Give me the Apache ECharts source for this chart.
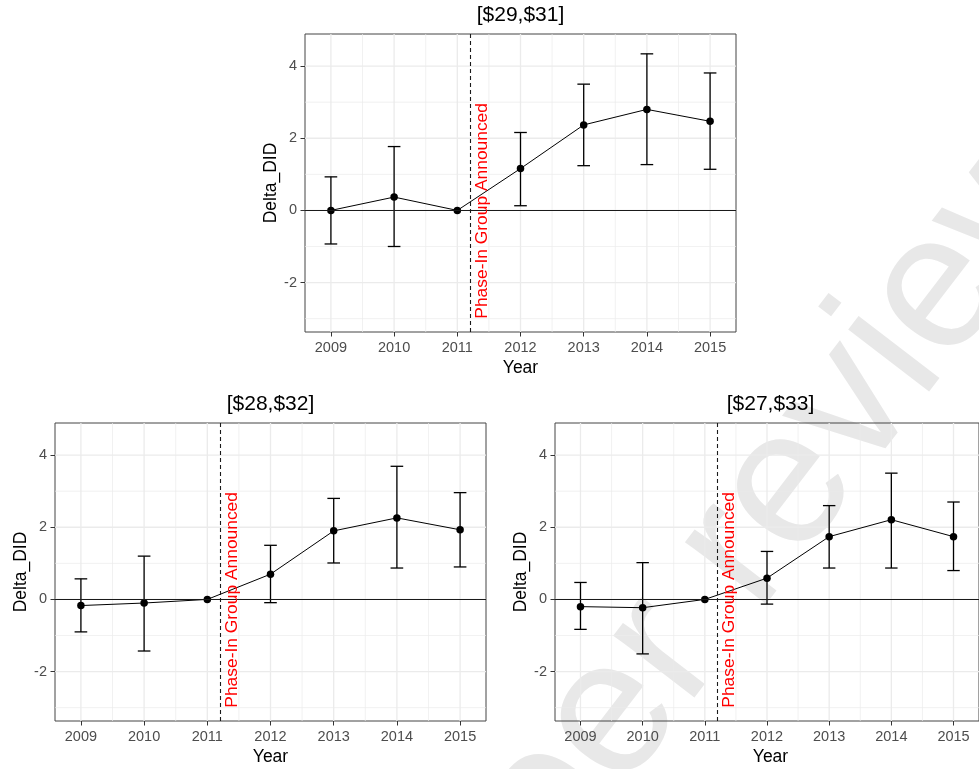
<!DOCTYPE html>
<html>
<head>
<meta charset="utf-8">
<script src="https://cdn.jsdelivr.net/npm/echarts@6/dist/echarts.min.js"></script>
<style>
html,body{margin:0;padding:0;background:#fff;}
#chart{width:979px;height:769px;}
</style>
</head>
<body>
<div id="chart"></div>
<script>
// ---------- data ----------
const years = [2009, 2010, 2011, 2012, 2013, 2014, 2015];
const panelTitles = ['[$29,$31]', '[$28,$32]', '[$27,$33]'];

const est29 = [0.00, 0.37, 0.00, 1.16, 2.37, 2.80, 2.47];
const lo29  = [-0.93, -1.00, 0.00, 0.13, 1.24, 1.27, 1.14];
const hi29  = [0.93, 1.77, 0.00, 2.16, 3.50, 4.34, 3.81];

const est28 = [-0.17, -0.10, 0.00, 0.70, 1.90, 2.26, 1.93];
const lo28  = [-0.90, -1.43, 0.00, -0.09, 1.01, 0.87, 0.90];
const hi28  = [0.57, 1.20, 0.00, 1.50, 2.80, 3.69, 2.96];

const est27 = [-0.20, -0.23, 0.00, 0.59, 1.74, 2.21, 1.74];
const lo27  = [-0.83, -1.51, 0.00, -0.13, 0.87, 0.87, 0.80];
const hi27  = [0.47, 1.02, 0.00, 1.33, 2.60, 3.50, 2.70];

const xTicks = [2009, 2010, 2011, 2012, 2013, 2014, 2015];
const xMinor = [2009.5, 2010.5, 2011.5, 2012.5, 2013.5, 2014.5];
const yTicks = [-2, 0, 2, 4];
const yMinor = [-3, -1, 1, 3];

const announceYear = 2011.2;
const annotationText = 'Phase-In Group Announced';
const annotationPos = [2011.4, -3];
const xTitle = 'Year';
const yTitle = 'Delta_DID';
const watermarkText = 'peer reviewed';

// ---------- layout ----------
const FONT = '"Liberation Sans", Arial, sans-serif';
const grids = [
  {left: 305, top: 34, width: 431, height: 298},
  {left: 55, top: 423, width: 431, height: 298},
  {left: 555, top: 423, width: 431, height: 298}
];
const panels = [
  {est: est29, lo: lo29, hi: hi29},
  {est: est28, lo: lo28, hi: hi28},
  {est: est27, lo: lo27, hi: hi27}
];

const chart = echarts.init(document.getElementById('chart'));

const xAxes = [], yAxes = [], series = [], graphics = [];

function gridRender(params, api) {
  const kind = api.value(2);
  const cs = params.coordSys;
  if (kind < 2) {
    const x = api.coord([api.value(0), 0])[0];
    return {type: 'line', shape: {x1: x, y1: cs.y, x2: x, y2: cs.y + cs.height},
      style: {stroke: '#ebebeb', lineWidth: kind === 0 ? 1.3 : 0.7}, silent: true};
  }
  const y = api.coord([2012, api.value(1)])[1];
  return {type: 'line', shape: {x1: cs.x, y1: y, x2: cs.x + cs.width, y2: y},
    style: {stroke: '#ebebeb', lineWidth: kind === 2 ? 1.3 : 0.7}, silent: true};
}

function errRender(params, api) {
  const x = api.value(0), lo = api.value(1), hi = api.value(2);
  if (lo === hi) return null;
  const pLo = api.coord([x, lo]), pHi = api.coord([x, hi]);
  const half = api.coord([x + 0.1, lo])[0] - pLo[0];
  const st = {stroke: '#000', lineWidth: 1.3};
  return {type: 'group', children: [
    {type: 'line', shape: {x1: pLo[0], y1: pLo[1], x2: pHi[0], y2: pHi[1]}, style: st},
    {type: 'line', shape: {x1: pLo[0] - half, y1: pLo[1], x2: pLo[0] + half, y2: pLo[1]}, style: st},
    {type: 'line', shape: {x1: pHi[0] - half, y1: pHi[1], x2: pHi[0] + half, y2: pHi[1]}, style: st}
  ]};
}

function annRender(params, api) {
  const p = api.coord([api.value(0), api.value(1)]);
  return {type: 'text', x: p[0], y: p[1], rotation: Math.PI / 2,
    style: {text: annotationText, fill: '#ff0000', font: '17.4px ' + FONT,
      align: 'left', verticalAlign: 'middle', textAlign: 'left', textVerticalAlign: 'middle'}};
}

panels.forEach((pn, i) => {
  const g = grids[i];
  xAxes.push({
    type: 'value', gridIndex: i, min: 2008.59, max: 2015.41,
    axisLine: {show: false, onZero: false},
    axisTick: {show: true, customValues: xTicks, length: 4.5, lineStyle: {color: '#333', width: 1}},
    axisLabel: {customValues: xTicks, formatter: v => String(v), color: '#4d4d4d',
      fontSize: 14.5, fontFamily: FONT, margin: 8},
    splitLine: {show: false}
  });
  yAxes.push({
    type: 'value', gridIndex: i, min: -3.37, max: 4.89,
    axisLine: {show: false, onZero: false},
    axisTick: {show: true, customValues: yTicks, length: 4.5, lineStyle: {color: '#333', width: 1}},
    axisLabel: {customValues: yTicks, formatter: v => String(v), color: '#4d4d4d',
      fontSize: 14.5, fontFamily: FONT, margin: 8},
    splitLine: {show: false}
  });

  const gridData = [];
  xTicks.forEach(v => gridData.push([v, 0, 0]));
  xMinor.forEach(v => gridData.push([v, 0, 1]));
  yTicks.forEach(v => gridData.push([2012, v, 2]));
  yMinor.forEach(v => gridData.push([2012, v, 3]));
  series.push({
    type: 'custom', xAxisIndex: i, yAxisIndex: i, z: 1, silent: true,
    renderItem: gridRender, data: gridData, encode: {x: 0, y: 1}
  });

  series.push({
    type: 'custom', xAxisIndex: i, yAxisIndex: i, z: 3,
    renderItem: errRender,
    data: years.map((y, k) => [y, pn.lo[k], pn.hi[k]]),
    encode: {x: 0, y: [1, 2]},
    markLine: {
      silent: true, symbol: ['none', 'none'], label: {show: false},
      data: [
        {yAxis: 0, lineStyle: {color: '#1a1a1a', width: 1.1, type: 'solid'}},
        {xAxis: announceYear, lineStyle: {color: '#1a1a1a', width: 1.1, type: [4, 3]}}
      ]
    }
  });

  series.push({
    type: 'line', xAxisIndex: i, yAxisIndex: i, z: 4,
    data: years.map((y, k) => [y, pn.est[k]]),
    symbol: 'circle', symbolSize: 7.5, showSymbol: true,
    lineStyle: {color: '#000', width: 1},
    itemStyle: {color: '#000'},
    animation: false
  });

  series.push({
    type: 'custom', xAxisIndex: i, yAxisIndex: i, z: 5,
    renderItem: annRender, data: [annotationPos], encode: {x: 0, y: 1}
  });

  const cx = g.left + g.width / 2;
  const cy = g.top + g.height / 2;
  graphics.push({type: 'text', x: cx, y: g.top - 19, z: 10,
    style: {text: panelTitles[i], fill: '#000', font: '21px ' + FONT,
      align: 'center', verticalAlign: 'middle', textAlign: 'center', textVerticalAlign: 'middle'}});
  graphics.push({type: 'text', x: cx, y: g.top + g.height + 36, z: 10,
    style: {text: xTitle, fill: '#000', font: '17.5px ' + FONT,
      align: 'center', verticalAlign: 'middle', textAlign: 'center', textVerticalAlign: 'middle'}});
  graphics.push({type: 'text', x: g.left - 33.5, y: cy, rotation: Math.PI / 2, z: 10,
    style: {text: yTitle, fill: '#000', font: '17.5px ' + FONT,
      align: 'center', verticalAlign: 'middle', textAlign: 'center', textVerticalAlign: 'middle'}});
});

// watermark (drawn behind the panels)
graphics.unshift({type: 'text', x: 448, y: 931, rotation: 52.5 * Math.PI / 180, z: -10, silent: true,
  style: {text: watermarkText, fill: '#e8e8e8', font: '193px ' + FONT,
    align: 'left', verticalAlign: 'middle', textAlign: 'left', textVerticalAlign: 'middle'}});

chart.setOption({
  animation: false,
  backgroundColor: '#ffffff',
  grid: grids.map(g => Object.assign({show: true, borderColor: '#444', borderWidth: 1,
    backgroundColor: 'transparent', containLabel: false}, g)),
  xAxis: xAxes,
  yAxis: yAxes,
  graphic: graphics,
  series: series
});
</script>
</body>
</html>
